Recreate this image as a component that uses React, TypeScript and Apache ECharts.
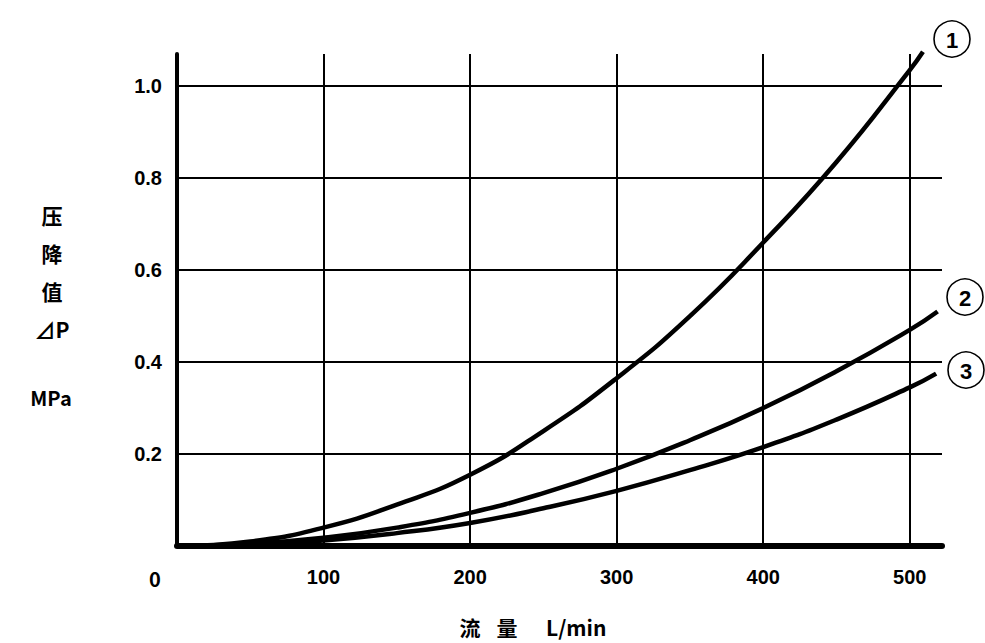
import React, { useEffect, useRef } from "react";
import * as echarts from "echarts";

const flowTicks = [100, 200, 300, 400, 500];
const pressureTicks = [0.2, 0.4, 0.6, 0.8, 1.0];
const curve1X = [0, 50, 100, 150, 200, 250, 300, 350, 400, 450, 500, 509];
const curve1Y = [0, 0.01, 0.04, 0.09, 0.155, 0.25, 0.365, 0.5, 0.66, 0.835, 1.035, 1.075];
const curve2X = [0, 50, 100, 150, 200, 250, 300, 350, 400, 450, 500, 519];
const curve2Y = [0, 0.005, 0.018, 0.04, 0.072, 0.115, 0.168, 0.23, 0.3, 0.38, 0.47, 0.51];
const curve3X = [0, 50, 100, 150, 200, 250, 300, 350, 400, 450, 500, 518];
const curve3Y = [0, 0.003, 0.012, 0.028, 0.05, 0.082, 0.12, 0.165, 0.215, 0.275, 0.345, 0.375];
const curveNames = ["1", "2", "3"];
const yTitleChars = ["压", "降", "值", "⊿P"];

const FONT = "'Liberation Sans', Arial, sans-serif";

export default function App() {
  const ref = useRef<HTMLDivElement>(null);
  useEffect(() => {
    document.body.style.margin = "0";
    const chart = echarts.init(ref.current!, null, { renderer: "svg" });
    const pair = (xs: number[], ys: number[]) => xs.map((x, i) => [x, ys[i]]);
    const lineSeries = (name: string, data: number[][]) => ({
      name,
      type: "line",
      data,
      smooth: 0.5,
      showSymbol: false,
      clip: false,
      z: 3,
      lineStyle: { color: "#000", width: 4.5 },
    });
    const circle = (cx: number, cy: number, t: string) => ({
      type: "group",
      children: [
        { type: "circle", shape: { cx, cy, r: 18 }, style: { fill: "#fff", stroke: "#000", lineWidth: 1.6 } },
        {
          type: "text",
          x: cx,
          y: cy + 1,
          style: { text: t, fill: "#000", font: `bold 22px ${FONT}`, align: "center", verticalAlign: "middle" },
        },
      ],
    });
    const txt = (x: number, y: number, text: string, size: number, align = "center") => ({
      type: "text",
      x,
      y,
      style: {
        text,
        fill: "#000",
        font: `bold ${size}px 'Noto Sans CJK SC', ${FONT}`,
        align,
        verticalAlign: "middle",
      },
    });
    chart.setOption({
      animation: false,
      backgroundColor: "#fff",
      grid: { left: 177, right: 43, top: 54, bottom: 97, containLabel: false },
      xAxis: {
        type: "value",
        min: 0,
        max: 522,
        interval: 100,
        axisLine: { show: true, onZero: false, lineStyle: { color: "#000", width: 6 } },
        axisTick: { show: false },
        axisLabel: {
          margin: 21,
          color: "#000",
          fontFamily: FONT,
          fontWeight: "bold",
          fontSize: 20,
          showMaxLabel: false,
          formatter: (v: number) => (flowTicks.includes(v) ? String(v) : ""),
        },
        splitLine: { show: false },
      },
      yAxis: {
        type: "value",
        min: 0,
        max: 1.07,
        interval: 0.2,
        axisLine: { show: true, lineStyle: { color: "#000", width: 4 } },
        axisTick: { show: false },
        axisLabel: {
          margin: 15,
          color: "#000",
          fontFamily: FONT,
          fontWeight: "bold",
          fontSize: 20,
          showMaxLabel: false,
          formatter: (v: number) =>
            pressureTicks.some((t) => Math.abs(t - v) < 1e-6) ? v.toFixed(1) : "",
        },
        splitLine: { show: false },
      },
      series: [
        {
          name: "grid",
          type: "line",
          data: [],
          silent: true,
          z: 1,
          markLine: {
            silent: true,
            symbol: ["none", "none"],
            label: { show: false },
            lineStyle: { color: "#000", width: 2, type: "solid" },
            data: [
              ...flowTicks.map((v) => ({ xAxis: v })),
              ...pressureTicks.map((v) => ({ yAxis: v })),
            ],
          },
        },
        lineSeries(curveNames[0], pair(curve1X, curve1Y)),
        lineSeries(curveNames[1], pair(curve2X, curve2Y)),
        lineSeries(curveNames[2], pair(curve3X, curve3Y)),
      ],
      graphic: [
        txt(155, 578, "0", 20),
        ...yTitleChars.map((c, i) => txt(52, 215 + i * 38, c, 21)),
        txt(51, 397, "MPa", 20),
        txt(470, 627, "流", 21),
        txt(507, 627, "量", 21),
        txt(546, 627, "L/min", 21, "left"),
        circle(952, 39, curveNames[0]),
        circle(965, 297, curveNames[1]),
        circle(966, 370, curveNames[2]),
      ],
    });
    return () => chart.dispose();
  }, []);
  return <div ref={ref} style={{ width: 985, height: 643 }} />;
}
